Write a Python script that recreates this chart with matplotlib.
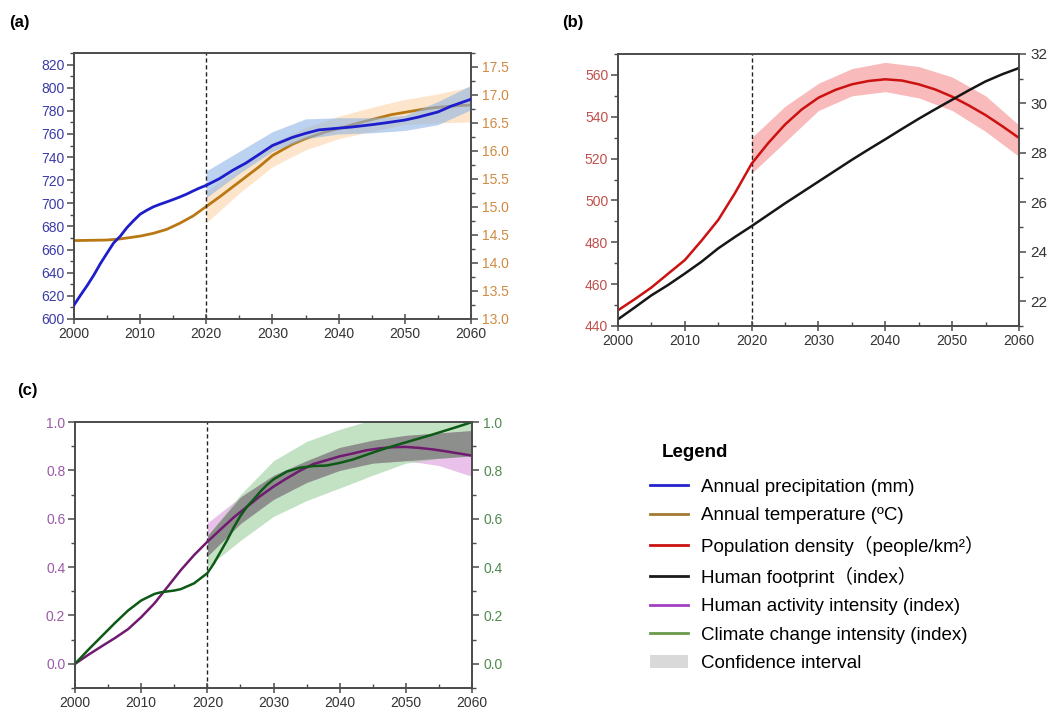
import numpy as np
import matplotlib
matplotlib.use("Agg")
import matplotlib.pyplot as plt
from matplotlib.lines import Line2D
from matplotlib.patches import Patch
from matplotlib.ticker import MultipleLocator, FormatStrFormatter

plt.rcParams['font.family'] = ['Liberation Sans', 'Noto Sans CJK SC', 'DejaVu Sans']

# ---------------- data ----------------
# (a) annual precipitation (mm), left axis
prec_years = [2000, 2001, 2002, 2003, 2004, 2005, 2006, 2007, 2008, 2009, 2010, 2011, 2012, 2013,
              2014, 2015, 2016, 2017, 2018, 2019, 2020, 2022, 2024, 2026, 2028, 2030, 2033,
              2035, 2037, 2040, 2042, 2045, 2047, 2050, 2052, 2055, 2057, 2060]
prec_vals = [612, 620.7, 629, 638, 648, 657, 665.8, 671.6, 679, 685, 690.6, 694, 697, 699.2,
             701.2, 703.3, 705.5, 707.9, 710.7, 713.3, 715.6, 721.4, 728.6, 734.9, 742.4, 750, 757,
             760.5, 763.5, 765, 766, 768, 769.5, 772, 774.5, 779, 784, 790]
# (a) annual temperature (C), right axis
temp_years = [2000, 2005, 2007, 2010, 2012, 2014, 2016, 2018, 2020, 2022, 2024, 2026, 2028,
              2030, 2033, 2035, 2038, 2040, 2043, 2045, 2048, 2050, 2053, 2055, 2058, 2060]
temp_vals = [14.40, 14.41, 14.43, 14.48, 14.53, 14.60, 14.71, 14.84, 15.01, 15.18, 15.36, 15.54, 15.72,
             15.92, 16.12, 16.22, 16.34, 16.40, 16.50, 16.56, 16.65, 16.69, 16.75, 16.78, 16.81, 16.82]
band_years = [2020, 2025, 2030, 2035, 2040, 2045, 2050, 2055, 2060]
prec_lo = [705, 726, 745, 756, 760, 761, 763, 768, 781]
prec_hi = [728, 745, 762, 773, 774, 774, 776, 788, 802]
temp_lo = [14.72, 15.25, 15.72, 16.02, 16.22, 16.35, 16.47, 16.50, 16.52]
temp_hi = [15.28, 15.70, 16.15, 16.42, 16.62, 16.78, 16.92, 17.02, 17.15]

# (b) population density (left) and human footprint (right)
b_years = [2000, 2002.5, 2005, 2007.5, 2010, 2012.5, 2015, 2017.5, 2020, 2022.5, 2025, 2027.5,
           2030, 2032.5, 2035, 2037.5, 2040, 2042.5, 2045, 2047.5, 2050, 2052.5, 2055, 2057.5, 2060]
pop_vals = [447.5, 452.8, 458.4, 465.0, 471.5, 480.8, 490.7, 503.5, 517.6, 527.5, 536.3, 543.5,
            549.1, 552.8, 555.5, 557.1, 557.9, 557.3, 555.5, 553.0, 549.6, 545.4, 540.8, 535.5, 529.9]
hfp_vals = [21.27, 21.75, 22.24, 22.66, 23.12, 23.60, 24.14, 24.60, 25.04, 25.50, 25.96, 26.40,
            26.84, 27.28, 27.72, 28.14, 28.55, 28.97, 29.38, 29.77, 30.15, 30.53, 30.89, 31.18, 31.43]
pop_lo = [513, 528, 543, 550, 552, 549, 543, 533, 521]
pop_hi = [530, 545, 556, 563, 566, 564, 559, 550, 536]

# (c) human activity intensity (left) and climate change intensity (right)
hai_years = [2000, 2002, 2004, 2006, 2008, 2010, 2012, 2014, 2016, 2018, 2020, 2022, 2024, 2026,
             2028, 2030, 2032, 2034, 2036, 2038, 2040, 2042, 2044, 2046, 2048, 2050, 2052, 2054,
             2056, 2058, 2060]
hai_vals = [0.0, 0.037, 0.072, 0.106, 0.143, 0.193, 0.25, 0.319, 0.388, 0.45, 0.505, 0.556, 0.606,
            0.65, 0.694, 0.733, 0.767, 0.799, 0.826, 0.842, 0.858, 0.870, 0.883, 0.891, 0.896, 0.897,
            0.893, 0.887, 0.879, 0.870, 0.861]
cci_years = [2000, 2002, 2004, 2006, 2008, 2010, 2012, 2013, 2015, 2016, 2018, 2020, 2021, 2022,
             2023, 2024, 2025, 2026, 2027, 2028, 2029, 2030, 2032, 2034, 2036, 2038, 2040, 2042,
             2044, 2046, 2048, 2050, 2052, 2054, 2056, 2058, 2060]
cci_vals = [0.0, 0.058, 0.113, 0.168, 0.22, 0.262, 0.289, 0.296, 0.303, 0.309, 0.333, 0.375, 0.416,
            0.464, 0.512, 0.565, 0.612, 0.65, 0.68, 0.712, 0.74, 0.763, 0.795, 0.811, 0.818, 0.82,
            0.831, 0.845, 0.864, 0.883, 0.900, 0.916, 0.932, 0.948, 0.965, 0.982, 1.0]
hai_lo = [0.445, 0.58, 0.68, 0.75, 0.80, 0.83, 0.84, 0.82, 0.775]
hai_hi = [0.583, 0.69, 0.78, 0.84, 0.895, 0.925, 0.945, 0.955, 0.965]
cci_lo = [0.40, 0.51, 0.61, 0.675, 0.727, 0.78, 0.83, 0.85, 0.86]
cci_hi = [0.53, 0.70, 0.84, 0.92, 0.97, 1.01, 1.05, 1.08, 1.10]

legend_labels = ["Annual precipitation (mm)", "Annual temperature (ºC)",
                 "Population density（people/km²）", "Human footprint（index）",
                 "Human activity intensity (index)", "Climate change intensity (index)",
                 "Confidence interval"]

# ---------------- style ----------------
SPINE = '#4a4a4a'
TICKFS = 10

def style_axes(ax, ax2, lcol, rcol, ylim, ymaj, ymin, y2lim, y2maj, y2min):
    ax.set_xlim(2000, 2060)
    ax.set_ylim(*ylim)
    ax2.set_ylim(*y2lim)
    ax.xaxis.set_major_locator(MultipleLocator(10))
    ax.xaxis.set_minor_locator(MultipleLocator(5))
    ax.yaxis.set_major_locator(MultipleLocator(ymaj))
    ax.yaxis.set_minor_locator(MultipleLocator(ymin))
    ax2.yaxis.set_major_locator(MultipleLocator(y2maj))
    ax2.yaxis.set_minor_locator(MultipleLocator(y2min))
    for a in (ax, ax2):
        for s in a.spines.values():
            s.set_color(SPINE)
            s.set_linewidth(1.2)
    ax.tick_params(axis='x', which='major', direction='inout', length=7, width=1.1,
                   color=SPINE, labelsize=TICKFS, labelcolor='#333333', pad=2)
    ax.tick_params(axis='x', which='minor', direction='in', length=3, width=1.0, color=SPINE)
    ax.tick_params(axis='y', which='major', direction='out', length=5, width=1.1,
                   color=SPINE, labelsize=TICKFS, labelcolor=lcol, pad=2)
    ax.tick_params(axis='y', which='minor', direction='out', length=3, width=1.0, color=SPINE)
    ax2.tick_params(axis='y', which='major', direction='out', length=5, width=1.1,
                    color=SPINE, labelsize=TICKFS, labelcolor=rcol, pad=3)
    ax2.tick_params(axis='y', which='minor', direction='out', length=3, width=1.0, color=SPINE)
    ax.axvline(2020, color='#222222', lw=1.0, ls=(0, (3, 2)), zorder=1)

fig = plt.figure(figsize=(10.57, 7.13), dpi=100)

# ---------------- (a) ----------------
axa = fig.add_axes([0.070, 0.5526, 0.3756, 0.3731])
axa2 = axa.twinx()
axa.fill_between(band_years, prec_lo, prec_hi, color='#8fb6e6', alpha=0.6, lw=0)
axa2.fill_between(band_years, temp_lo, temp_hi, color='#fbd0a0', alpha=0.55, lw=0)
axa2.plot(temp_years, temp_vals, color='#b97814', lw=2.0)
axa.plot(prec_years, prec_vals, color='#1d1dcc', lw=2.0, zorder=5)
axa.set_zorder(axa2.get_zorder() + 1)
axa.patch.set_visible(False)
style_axes(axa, axa2, '#3b3ba6', '#d08a40', (600, 830), 20, 10, (13.0, 17.75), 0.5, 0.25)
axa2.yaxis.set_major_formatter(FormatStrFormatter('%.1f'))

# ---------------- (b) ----------------
axb = fig.add_axes([0.5847, 0.5428, 0.3793, 0.3815])
axb2 = axb.twinx()
axb.fill_between(band_years, pop_lo, pop_hi, color='#f6a3a3', alpha=0.75, lw=0)
axb.plot(b_years, pop_vals, color='#cc1111', lw=1.8)
axb2.plot(b_years, hfp_vals, color='#161616', lw=1.8)
style_axes(axb, axb2, '#c0504d', '#333333', (440, 570), 20, 10, (21, 32), 2, 1)
axb2.tick_params(axis='y', which='major', labelsize=11)

# ---------------- (c) ----------------
axc = fig.add_axes([0.071, 0.0351, 0.3756, 0.3730])
axc2 = axc.twinx()
ov_lo = np.maximum(hai_lo, cci_lo)
ov_hi = np.minimum(hai_hi, cci_hi)
axc.fill_between(band_years, hai_lo, hai_hi, color='#dc98dc', alpha=0.6, lw=0)
axc.fill_between(band_years, cci_lo, cci_hi, color='#9ccf9c', alpha=0.6, lw=0)
axc.fill_between(band_years, ov_lo, ov_hi, where=ov_hi > ov_lo, color='#858585', alpha=0.85, lw=0)
axc.plot(hai_years, hai_vals, color='#701a70', lw=1.8, zorder=4)
axc2.plot(cci_years, cci_vals, color='#0d5a16', lw=1.8)
style_axes(axc, axc2, '#9a5aa8', '#4f8a4f', (-0.1, 1.0), 0.2, 0.1, (-0.1, 1.0), 0.2, 0.1)
axc.yaxis.set_major_formatter(FormatStrFormatter('%.1f'))
axc2.yaxis.set_major_formatter(FormatStrFormatter('%.1f'))

# panel labels
fig.text(0.009, 0.968, '(a)', fontsize=12, fontweight='bold', va='center')
fig.text(0.532, 0.968, '(b)', fontsize=12, fontweight='bold', va='center')
fig.text(0.016, 0.453, '(c)', fontsize=12, fontweight='bold', va='center')

# ---------------- legend ----------------
fig.text(0.626, 0.366, 'Legend', fontsize=13.5, fontweight='bold', va='center', ha='left')
leg_colors = ['#2424cc', '#a07a30', '#cc1111', '#1a1a1a', '#a040c0', '#6a9a4a']
handles = [Line2D([], [], color=c, lw=2) for c in leg_colors]
handles.append(Patch(facecolor='#d9d9d9', edgecolor='none'))
leg = fig.legend(handles, legend_labels, loc='upper left', bbox_to_anchor=(0.599, 0.352),
                 frameon=False, fontsize=13.5,
                 handlelength=2.0, handletextpad=0.7, labelspacing=0.6)

fig.savefig('out.png', dpi=100)
